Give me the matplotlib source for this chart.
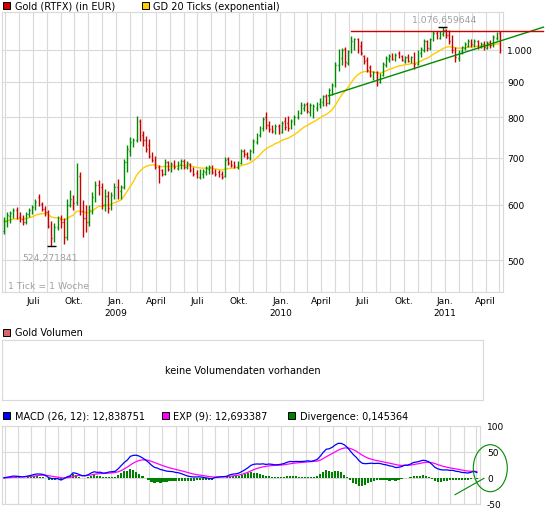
import matplotlib
matplotlib.use("Agg")
import matplotlib.pyplot as plt
import matplotlib.dates as mdates
from matplotlib.patches import Rectangle, Ellipse
from matplotlib.lines import Line2D
from matplotlib.ticker import NullLocator
import numpy as np
import pandas as pd

plt.rcParams['font.family'] = ['DejaVu Sans']

# ---------------- data (weekly OHLC, EUR) ----------------
week_start = "2008-04-28"
opens = [550, 568, 578, 584, 590, 576, 572, 566, 582, 590,
         596, 615, 602, 592, 585, 560, 538, 558, 572, 566,
         540, 600, 612, 605, 660, 588, 575, 566, 590, 615,
         640, 636, 600, 618, 594, 620, 636, 628, 636, 690,
         715, 732, 742, 790, 755, 742, 730, 705, 700, 680,
         672, 664, 690, 672, 688, 678, 685, 694, 680, 686,
         674, 666, 658, 664, 668, 676, 680, 670, 668, 664,
         660, 698, 690, 686, 680, 688, 716, 710, 700, 716,
         738, 755, 772, 800, 780, 772, 764, 778, 762, 790,
         786, 774, 784, 800, 812, 826, 836, 814, 820, 826,
         836, 842, 858, 840, 872, 888, 950, 972, 1002, 958,
         994, 1020, 1035, 1012, 978, 968, 945, 915, 928, 900,
         920, 950, 970, 982, 968, 990, 980, 964, 975, 962,
         978, 955, 988, 1000, 1030, 1005, 1032, 1058, 1040, 1052,
         1068, 1050, 1030, 1002, 972, 994, 1005, 1012, 1032, 1015,
         1030, 1008, 1020, 1006, 1026, 1014, 1040, 1056]
highs = [576, 585, 588, 594, 596, 585, 580, 585, 594, 600,
         612, 622, 606, 598, 590, 568, 565, 578, 580, 574,
         612, 630, 620, 688, 668, 610, 600, 600, 625, 648,
         650, 645, 632, 628, 625, 645, 653, 640, 697, 730,
         750, 748, 804, 795, 765, 753, 745, 714, 705, 684,
         676, 697, 694, 690, 695, 694, 698, 698, 692, 688,
         680, 672, 675, 676, 682, 684, 684, 676, 672, 670,
         702, 702, 696, 692, 694, 722, 720, 714, 720, 746,
         760, 778, 801, 814, 790, 780, 782, 784, 790, 800,
         804, 796, 806, 820, 842, 840, 842, 838, 836, 842,
         852, 862, 864, 880, 895, 960, 1002, 1005, 1009, 1000,
         1046, 1040, 1040, 1030, 982, 975, 950, 932, 932, 925,
         960, 980, 985, 990, 990, 996, 982, 980, 986, 980,
         992, 1000, 1010, 1036, 1034, 1040, 1063, 1062, 1062, 1076.659644,
         1072, 1066, 1050, 1010, 1000, 1012, 1024, 1036, 1035, 1036,
         1034, 1024, 1028, 1028, 1034, 1048, 1060, 1063]
lows = [545, 558, 565, 574, 572, 566, 562, 563, 576, 582,
        590, 598, 588, 578, 556, 524.271841, 530, 552, 555, 528,
        535, 596, 590, 600, 580, 540, 548, 560, 582, 605,
        620, 592, 588, 584, 590, 612, 612, 612, 632, 668,
        705, 726, 738, 741, 728, 714, 700, 690, 675, 645,
        660, 662, 670, 668, 675, 672, 676, 675, 674, 668,
        660, 655, 653, 656, 662, 664, 664, 660, 658, 653,
        658, 684, 680, 678, 676, 686, 702, 698, 696, 712,
        732, 750, 765, 770, 762, 760, 758, 757, 760, 768,
        765, 770, 780, 795, 808, 818, 812, 804, 798, 816,
        826, 830, 830, 836, 862, 884, 932, 950, 945, 952,
        990, 1000, 990, 984, 955, 928, 914, 906, 887, 895,
        918, 945, 960, 965, 962, 972, 962, 958, 960, 958,
        938, 950, 975, 992, 995, 1000, 1028, 1036, 1035, 1045,
        1040, 1020, 990, 960, 962, 985, 1000, 1008, 1010, 1010,
        1002, 1004, 1000, 1002, 1006, 1010, 1034, 989]
closes = [568, 580, 584, 590, 576, 572, 566, 582, 590, 596,
          606, 602, 592, 585, 560, 538, 558, 572, 566, 540,
          600, 612, 604, 660, 588, 575, 566, 590, 615, 640,
          636, 600, 618, 594, 620, 636, 628, 636, 690, 722,
          738, 742, 790, 750, 742, 722, 705, 695, 680, 660,
          664, 690, 675, 686, 680, 690, 694, 680, 688, 672,
          664, 660, 668, 670, 678, 680, 668, 664, 662, 658,
          696, 688, 684, 682, 690, 716, 708, 702, 716, 740,
          755, 772, 795, 780, 770, 764, 778, 762, 786, 776,
          772, 790, 800, 815, 832, 834, 818, 832, 830, 838,
          846, 858, 840, 875, 890, 950, 990, 1000, 960, 994,
          1030, 1035, 1012, 990, 962, 935, 920, 928, 900, 918,
          955, 972, 978, 970, 984, 978, 966, 975, 964, 975,
          955, 990, 1002, 1028, 1005, 1035, 1055, 1040, 1055, 1068,
          1048, 1030, 1000, 975, 995, 1008, 1018, 1030, 1018, 1030,
          1010, 1020, 1008, 1022, 1015, 1042, 1056, 1008]

month_ticks = ["2008-07-01", "2008-10-01", "2009-01-01", "2009-04-01",
               "2009-07-01", "2009-10-01", "2010-01-01", "2010-04-01",
               "2010-07-01", "2010-10-01", "2011-01-01", "2011-04-01"]
month_labels = ["Juli", "Okt.", "Jan.\n2009", "April", "Juli", "Okt.",
                "Jan.\n2010", "April", "Juli", "Okt.", "Jan.\n2011", "April"]
price_ticks = [500, 600, 700, 800, 900, 1000]
price_labels = ["500", "600", "700", "800", "900", "1.000"]
macd_ticks = [-50, 0, 50, 100]
macd_labels = ["-50", "0", "50", "100"]

max_text = "1.076,659644"
min_text = "524,271841"

# trend lines drawn by hand on the original chart (date, price)
green_trend_dates = ["2010-04-18", "2011-08-07"]
green_trend_prices = [859, 1077]
red_trend_dates = ["2010-06-07", "2011-08-07"]
red_trend_prices = [1062.5, 1062.5]

# ---------------- styling ----------------
W, H = 545, 510
GREEN = "#008a00"
RED = "#cc0000"
YELLOW = "#ffcc00"
GRID = "#d9d9d9"
GRAYTXT = "#a0a0a0"
FS = 7
TFS = 6.5

def fx(px):
    return px / W

def fy(py):
    return 1 - py / H

fig = plt.figure(figsize=(W / 100, H / 100), dpi=100)
fig.patch.set_facecolor("white")

dates = pd.date_range(week_start, periods=len(closes), freq="7D")
x = mdates.date2num(dates)
o = np.array(opens, float)
h = np.array(highs, float)
l = np.array(lows, float)
c = np.array(closes, float)
col = np.where(c >= o, GREEN, RED)

xlim = (mdates.date2num(pd.Timestamp("2008-04-24 10:00")),
        mdates.date2num(pd.Timestamp("2011-05-09 08:00")))

def style_axes(ax):
    for s in ax.spines.values():
        s.set_color(GRID)
        s.set_linewidth(0.8)
    ax.set_facecolor("white")

# ---------------- main price chart ----------------
ax = fig.add_axes([fx(2.3), fy(293.3), (503 - 2.3) / W, (293.3 - 13.3) / H])
style_axes(ax)
ax.set_yscale("log")
ax.set_ylim(449.6, 1131)
ax.set_xlim(*xlim)
ax.set_yticks(price_ticks)
ax.set_yticklabels(price_labels)
ax.yaxis.set_minor_locator(NullLocator())
ax.yaxis.tick_right()
ax.set_xticks(mdates.date2num(pd.to_datetime(month_ticks)))
ax.set_xticklabels(month_labels, linespacing=1.35)
ax.xaxis.set_minor_locator(mdates.MonthLocator())
ax.tick_params(axis="both", which="both", length=0, labelsize=TFS)
ax.tick_params(axis="x", pad=3)
ax.tick_params(axis="y", pad=3)
ax.grid(True, which="both", axis="x", color=GRID, lw=0.8)
ax.grid(True, which="major", axis="y", color=GRID, lw=0.8)
ax.set_axisbelow(True)

tick = 1.7
ax.vlines(x, l, h, colors=col, lw=1.0, zorder=3)
ax.hlines(o, x - tick, x, colors=col, lw=1.0, zorder=3)
ax.hlines(c, x, x + tick, colors=col, lw=1.0, zorder=3)

ema20 = pd.Series(c).ewm(span=20, adjust=False).mean().values
ax.plot(x, ema20, color=YELLOW, lw=1.0, zorder=2)

# trend lines
ax.plot(mdates.date2num(pd.to_datetime(green_trend_dates)), green_trend_prices,
        color=GREEN, lw=1.0, clip_on=False, zorder=4)
ax.plot(mdates.date2num(pd.to_datetime(red_trend_dates)), red_trend_prices,
        color=RED, lw=1.0, clip_on=False, zorder=4)

# max / min markers
imax = int(np.argmax(h))
imin = int(np.argmin(l))
ax.hlines([h[imax]], x[imax] - 10, x[imax] + 10, colors="black", lw=1.0, zorder=5)
ax.hlines([l[imin]], x[imin] - 10, x[imin] + 10, colors="black", lw=1.0, zorder=5)
ax.annotate(max_text, xy=(x[imax], h[imax]), xytext=(1, 7.5), textcoords="offset pixels",
            ha="center", va="center", fontsize=6.7, color=GRAYTXT)
ax.annotate(min_text, xy=(x[imin], l[imin]), xytext=(-1, -11.5), textcoords="offset pixels",
            ha="center", va="center", fontsize=6.7, color=GRAYTXT)
fig.text(fx(8.3), fy(286.7), "1 Tick = 1 Woche", ha="left", va="center",
         fontsize=6.7, color=GRAYTXT)

# legend main
def legend_box(px, py, color):
    r = Rectangle((fx(px), fy(py + 7)), 7 / W, 7 / H, transform=fig.transFigure,
                  facecolor=color, edgecolor="black", lw=0.7)
    fig.add_artist(r)

legend_box(3.3, 3, RED)
fig.text(fx(15), fy(6.7), "Gold (RTFX) (in EUR)", ha="left", va="center", fontsize=FS)
legend_box(141.7, 3, YELLOW)
fig.text(fx(153.3), fy(6.7), "GD 20 Ticks (exponential)", ha="left", va="center", fontsize=FS)

# ---------------- volume panel ----------------
axv = fig.add_axes([fx(2.3), fy(401), (482.7 - 2.3) / W, 60 / H])
style_axes(axv)
axv.set_xticks([])
axv.set_yticks([])
axv.text(0.5, 0.5, "keine Volumendaten vorhanden", transform=axv.transAxes,
         ha="center", va="center", fontsize=FS)
legend_box(3.3, 329.5, "#d96666")
fig.text(fx(15), fy(333), "Gold Volumen", ha="left", va="center", fontsize=FS)

# ---------------- MACD panel ----------------
ema12 = pd.Series(c).ewm(span=12, adjust=False).mean()
ema26 = pd.Series(c).ewm(span=26, adjust=False).mean()
macd = (ema12 - ema26).values
signal = pd.Series(macd).ewm(span=9, adjust=False).mean().values
diverg = macd - signal

axm = fig.add_axes([fx(2.3), fy(505), (480 - 2.3) / W, (505 - 426.5) / H])
style_axes(axm)
axm.set_xlim(*xlim)
axm.set_ylim(-50, 100)
axm.set_yticks(macd_ticks)
axm.set_yticklabels(macd_labels)
axm.yaxis.tick_right()
axm.set_xticks(mdates.date2num(pd.to_datetime(month_ticks)))
axm.set_xticklabels([])
axm.xaxis.set_minor_locator(mdates.MonthLocator())
axm.tick_params(axis="both", which="both", length=0, labelsize=TFS)
axm.tick_params(axis="y", pad=5)
axm.grid(True, which="both", axis="x", color=GRID, lw=0.8)
axm.grid(True, which="major", axis="y", color=GRID, lw=0.8)
axm.set_axisbelow(True)
axm.bar(x, diverg, width=5, color="#008000", zorder=2)
axm.plot(x, signal, color="#ff00ff", lw=0.9, zorder=3)
axm.plot(x, macd, color="#0000ff", lw=0.9, zorder=4)

legend_box(3.3, 413, "#0000ff")
fig.text(fx(15), fy(416.7), "MACD (26, 12): 12,838751", ha="left", va="center", fontsize=FS)
legend_box(162.3, 413, "#ff00ff")
fig.text(fx(173.3), fy(416.7), "EXP (9): 12,693387", ha="left", va="center", fontsize=FS)
legend_box(288.3, 413, "#008000")
fig.text(fx(300), fy(416.7), "Divergence: 0,145364", ha="left", va="center", fontsize=FS)

# hand-drawn annotation on the MACD panel
fig.add_artist(Ellipse((fx(490.3), fy(469.2)), 34 / W, 47 / H, transform=fig.transFigure,
                       fill=False, edgecolor=GREEN, lw=0.8))
fig.add_artist(Line2D([fx(455), fx(484)], [fy(495.7), fy(479.3)], transform=fig.transFigure,
                      color=GREEN, lw=0.8))

fig.savefig("out.png", dpi=100, facecolor="white")
